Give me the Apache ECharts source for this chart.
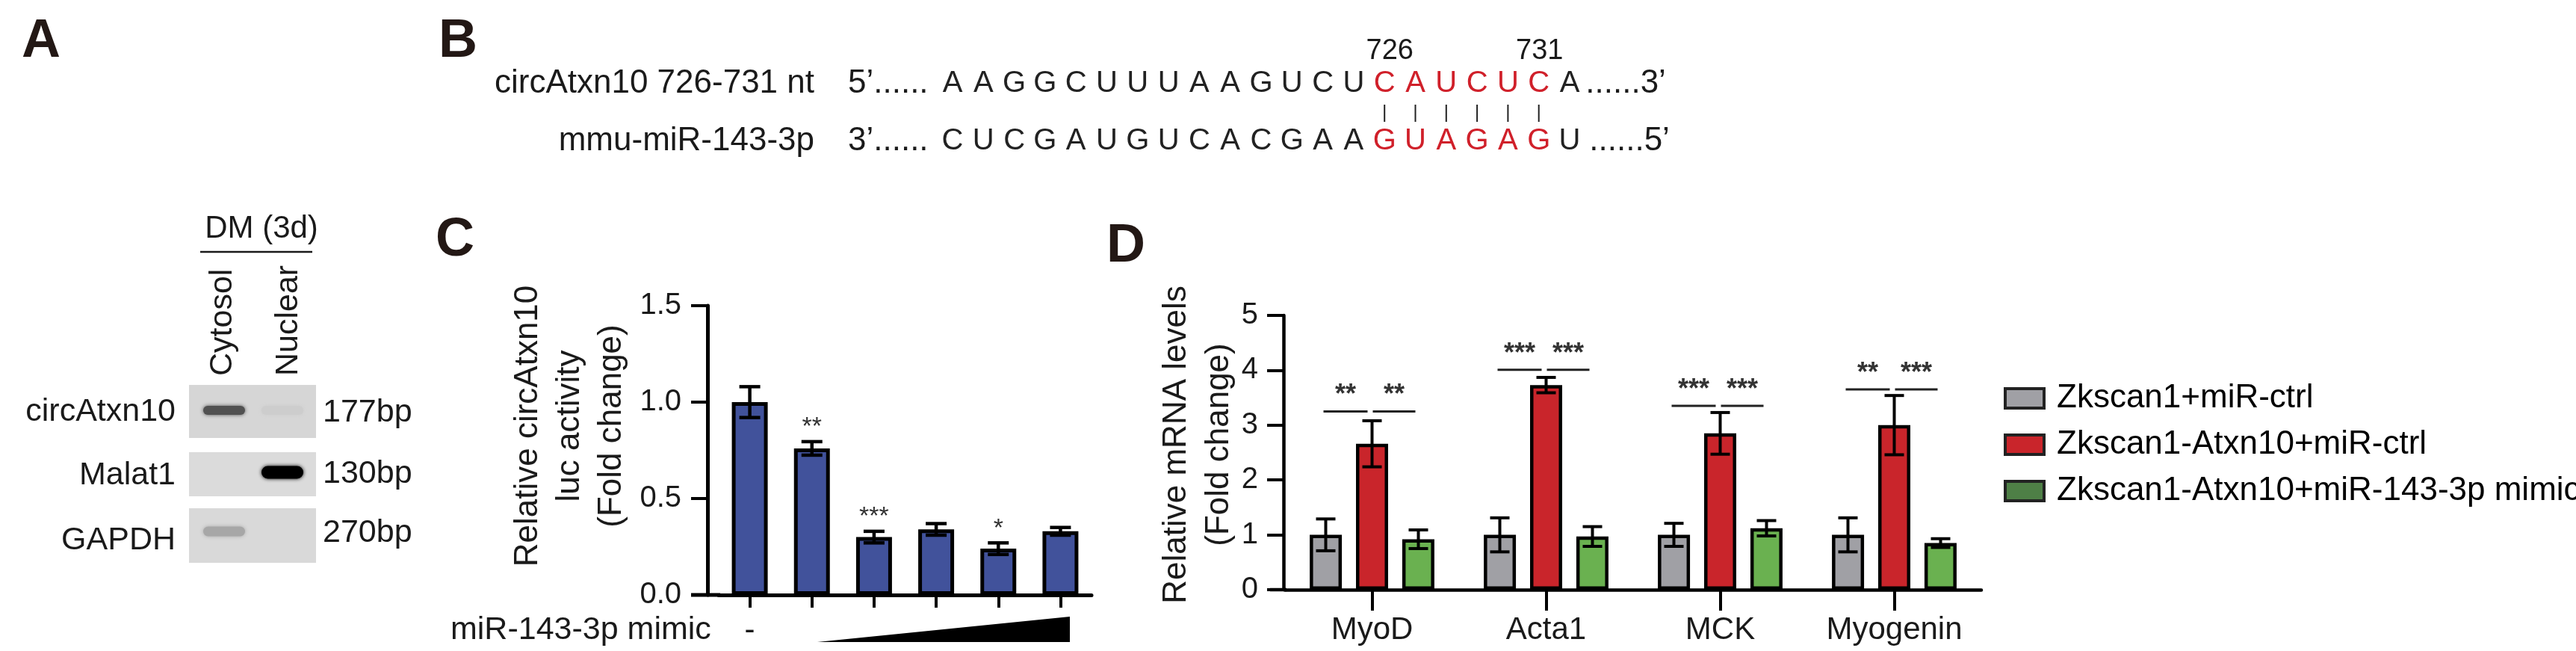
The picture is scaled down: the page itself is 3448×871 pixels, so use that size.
<!DOCTYPE html>
<html><head><meta charset="utf-8">
<script src="https://cdn.jsdelivr.net/npm/echarts@6/dist/echarts.min.js"></script>
<style>html,body{margin:0;padding:0;background:#fff}#c{width:3448px;height:871px}</style>
</head><body><div id="c"></div>
<script>
// ---------------- data ----------------
// Panel C
const cGroupKeys = ['ctrl', 'dose1', 'dose2', 'dose3', 'dose4', 'dose5'];
const cTickLabels = ['-', '', '', '', '', ''];
const cMeans = [1.00, 0.76, 0.30, 0.34, 0.24, 0.33];
const cErrors = [0.08, 0.035, 0.03, 0.03, 0.03, 0.02];
const cStars = ['', '**', '***', '', '*', ''];
const cYMin = 0, cYMax = 1.5, cYStep = 0.5;

// Panel D
const dGenes = ['MyoD', 'Acta1', 'MCK', 'Myogenin'];
const dSeriesNames = ['Zkscan1+miR-ctrl', 'Zkscan1-Atxn10+miR-ctrl', 'Zkscan1-Atxn10+miR-143-3p mimic'];
const dCtrl = [1.00, 1.00, 1.00, 1.00];
const dCtrlErr = [0.29, 0.31, 0.21, 0.31];
const dAtxn = [2.66, 3.73, 2.85, 3.00];
const dAtxnErr = [0.42, 0.14, 0.38, 0.54];
const dMimic = [0.92, 0.97, 1.12, 0.85];
const dMimicErr = [0.17, 0.18, 0.14, 0.08];
const dSigY = [3.25, 4.01, 3.35, 3.65];
const dSigLeft = ['**', '***', '***', '**'];
const dSigRight = ['**', '***', '***', '***'];
const dYMin = 0, dYMax = 5, dYStep = 1;

// Panel A
const blotGenes = ['circAtxn10', 'Malat1', 'GAPDH'];
const blotSizes = ['177bp', '130bp', '270bp'];
const blotLanes = ['Cytosol', 'Nuclear'];
const blotBands = [[0.62, 0.04], [0.0, 1.0], [0.22, 0.0]];
const blotCondition = 'DM (3d)';

// Panel B
const targetName = 'circAtxn10 726-731 nt';
const mirName = 'mmu-miR-143-3p';
const targetSeq = 'AAGGCUUUAAGUCUCAUCUCA'.split('');
const mirSeq = 'CUCGAUGUCACGAAGUAGAGU'.split('');
const seedFrom = 14, seedTo = 19;
const seedLabels = ['726', '731'];

// ---------------- styles / layout ----------------
const FONT = "'Liberation Sans', Arial, Helvetica, sans-serif";
const INK = '#1a1a1a';
const C_BLUE = '#41529b';
const D_COLORS = ['#a0a0a5', '#c9252b', '#6ab150'];
const LEGEND_COLORS = ['#a0a0a5', '#c9252b', '#4e7f46'];
const C_BAR = 48, D_BAR = 43, D_STEP = 62;

const chart = echarts.init(document.getElementById('c'), null, {renderer: 'canvas', width: 3448, height: 871});

function errSeries(xi, yi, means, errs, offset, capW, lw) {
  return {
    type: 'custom', xAxisIndex: xi, yAxisIndex: yi, z: 5, silent: true,
    encode: {x: 0, y: 1},
    data: means.map((m, i) => [i, m, errs[i]]),
    renderItem: (params, api) => {
      const i = params.dataIndex, m = means[i], e = errs[i];
      const t = api.coord([i, m + e]), b = api.coord([i, m - e]);
      const x = t[0] + offset;
      const st = {stroke: '#000', lineWidth: lw};
      return {type: 'group', children: [
        {type: 'line', shape: {x1: x, y1: t[1], x2: x, y2: b[1]}, style: st},
        {type: 'line', shape: {x1: x - capW / 2, y1: t[1], x2: x + capW / 2, y2: t[1]}, style: st},
        {type: 'line', shape: {x1: x - capW / 2, y1: b[1], x2: x + capW / 2, y2: b[1]}, style: st}
      ]};
    }
  };
}

function txt(x, y, text, o) {
  o = o || {};
  return {
    type: 'text', x: x, y: y, rotation: o.rotation || 0, silent: true,
    style: {
      text: text, fill: o.fill || INK, fontSize: o.size || 44, fontFamily: FONT,
      fontWeight: o.weight || 'normal',
      align: o.align || 'left', textAlign: o.align || 'left',
      verticalAlign: o.va || 'middle', textVerticalAlign: o.va || 'middle',
      lineHeight: o.lh || undefined
    }
  };
}

const graphics = [];
// panel letters
[['A', 29, 56], ['B', 587, 56], ['C', 583, 322], ['D', 1481, 330]].forEach(p => {
  graphics.push(txt(p[1], p[2], p[0], {size: 72, weight: 'bold', fill: '#231815'}));
});

// ---- Panel A (gel) ----
graphics.push(txt(350, 306, blotCondition, {size: 42, align: 'center'}));
graphics.push({type: 'line', shape: {x1: 268, y1: 337, x2: 418, y2: 337}, style: {stroke: INK, lineWidth: 2.5}});
const laneX = [298, 386];
blotLanes.forEach((l, i) => graphics.push(txt(laneX[i], 503, l, {size: 43, rotation: Math.PI / 2, align: 'left'})));
const boxTop = [515, 605, 680], boxH = [71, 59, 73], boxFill = ['#d6d6d6', '#dbdbdb', '#d9d9d9'];
const bandY = [549, 632, 711], bandH = [12, 17, 13], bandX = [300, 378];
blotGenes.forEach((g, r) => {
  graphics.push({type: 'rect', shape: {x: 253, y: boxTop[r], width: 170, height: boxH[r]}, style: {fill: boxFill[r]}});
  blotBands[r].forEach((v, l) => {
    if (v <= 0) return;
    const lv = Math.round(214 - v * 214);
    const col = 'rgb(' + lv + ',' + lv + ',' + lv + ')';
    graphics.push({type: 'rect', shape: {x: bandX[l] - 28, y: bandY[r] - bandH[r] / 2, width: 56, height: bandH[r], r: bandH[r] / 2},
      style: {fill: col, shadowBlur: 5, shadowColor: col}});
  });
  graphics.push(txt(235, [551, 636, 723][r], g, {size: 43, align: 'right'}));
  graphics.push(txt(432, [552, 634, 713][r], blotSizes[r], {size: 43}));
});

// ---- Panel B (sequence) ----
const SEQ_X0 = 1275, SEQ_STEP = 41.3, ROW1 = 112, ROW2 = 189;
graphics.push(txt(1090, ROW1, targetName, {size: 44, align: 'right'}));
graphics.push(txt(1090, ROW2, mirName, {size: 44, align: 'right'}));
graphics.push(txt(1135, ROW1, '5\u2019......', {size: 44}));
graphics.push(txt(1135, ROW2, '3\u2019......', {size: 44}));
targetSeq.forEach((ch, i) => {
  const red = i >= seedFrom && i <= seedTo;
  graphics.push(txt(SEQ_X0 + i * SEQ_STEP, ROW1, ch, {size: 40, align: 'center', fill: red ? '#d0202a' : '#222'}));
});
mirSeq.forEach((ch, i) => {
  const red = i >= seedFrom && i <= seedTo;
  graphics.push(txt(SEQ_X0 + i * SEQ_STEP, ROW2, ch, {size: 40, align: 'center', fill: red ? '#d0202a' : '#222'}));
});
for (let i = seedFrom; i <= seedTo; i++) {
  const x = SEQ_X0 + i * SEQ_STEP;
  graphics.push({type: 'line', shape: {x1: x, y1: 140, x2: x, y2: 163}, style: {stroke: '#222', lineWidth: 2}});
}
graphics.push(txt(SEQ_X0 + targetSeq.length * SEQ_STEP - 20, ROW1, '......3\u2019', {size: 44}));
graphics.push(txt(SEQ_X0 + mirSeq.length * SEQ_STEP - 15, ROW2, '......5\u2019', {size: 44}));
graphics.push(txt(SEQ_X0 + seedFrom * SEQ_STEP + 7, 69, seedLabels[0], {size: 38, align: 'center'}));
graphics.push(txt(SEQ_X0 + seedTo * SEQ_STEP + 1, 69, seedLabels[1], {size: 38, align: 'center'}));

// ---- Panel C furniture ----
graphics.push(txt(763, 570, 'Relative circAtxn10\nluc activity\n(Fold change)', {size: 44, align: 'center', rotation: Math.PI / 2, lh: 56}));
graphics.push({type: 'line', shape: {x1: 925, y1: 796, x2: 964, y2: 796}, style: {stroke: '#000', lineWidth: 5}});
graphics.push({type: 'polygon', shape: {points: [[1094, 859], [1432, 859], [1432, 825]]}, style: {fill: '#000'}});
graphics.push(txt(603, 843, 'miR-143-3p mimic', {size: 43}));

// ---- Panel D furniture ----
graphics.push(txt(1603, 595, 'Relative mRNA levels\n(Fold change)', {size: 44, align: 'center', rotation: Math.PI / 2, lh: 57}));
graphics.push({type: 'line', shape: {x1: 1700, y1: 789, x2: 1722, y2: 789}, style: {stroke: '#000', lineWidth: 4.5}});

const axisCommon = (w) => ({
  axisLine: {show: true, lineStyle: {color: '#000', width: w}},
  splitLine: {show: false}
});

const option = {
  animation: false,
  backgroundColor: '#fff',
  textStyle: {fontFamily: FONT},
  grid: [
    {left: 962, top: 409, width: 499, height: 387, outerBoundsMode: 'none', containLabel: false},
    {left: 1720, top: 422, width: 932, height: 367, outerBoundsMode: 'none', containLabel: false}
  ],
  xAxis: [
    Object.assign({type: 'category', gridIndex: 0, data: cGroupKeys,
      axisTick: {show: true, alignWithLabel: true, length: 17, lineStyle: {color: '#000', width: 4}},
      axisLabel: {formatter: (v, i) => cTickLabels[i], interval: 0, fontSize: 42, color: INK, margin: 27, fontFamily: FONT}},
      axisCommon(5)),
    Object.assign({type: 'category', gridIndex: 1, data: dGenes,
      axisTick: {show: true, alignWithLabel: true, length: 28, lineStyle: {color: '#000', width: 4}},
      axisLabel: {interval: 0, fontSize: 42, color: INK, margin: 33, fontFamily: FONT}},
      axisCommon(4.5))
  ],
  yAxis: [
    Object.assign({type: 'value', gridIndex: 0, min: cYMin, max: cYMax, interval: cYStep, offset: 15,
      axisTick: {show: true, length: 22, lineStyle: {color: '#000', width: 4}},
      axisLabel: {formatter: v => v.toFixed(1), fontSize: 40, color: INK, margin: 35, fontFamily: FONT}},
      axisCommon(5)),
    Object.assign({type: 'value', gridIndex: 1, min: dYMin, max: dYMax, interval: dYStep, offset: 2,
      axisTick: {show: true, length: 22, lineStyle: {color: '#000', width: 4}},
      axisLabel: {fontSize: 40, color: INK, margin: 34, fontFamily: FONT}},
      axisCommon(4.5))
  ],
  legend: {
    orient: 'vertical', left: 2682, top: 511, padding: 0, itemWidth: 52, itemHeight: 26, itemGap: 18,
    icon: 'rect', selectedMode: false,
    textStyle: {fontSize: 44, color: '#000', lineHeight: 44, fontFamily: FONT, padding: [0, 0, 0, 12]},
    data: dSeriesNames.map((n, i) => ({name: n, itemStyle: {color: LEGEND_COLORS[i], borderColor: '#222', borderWidth: 4}}))
  },
  series: [
    {type: 'bar', xAxisIndex: 0, yAxisIndex: 0, data: cMeans, barWidth: C_BAR, z: 2,
      itemStyle: {color: C_BLUE, borderColor: '#000', borderWidth: 5}},
    errSeries(0, 0, cMeans, cErrors, 0, 28, 4.5),
    {type: 'custom', xAxisIndex: 0, yAxisIndex: 0, z: 6, silent: true, encode: {x: 0, y: 1},
      data: cMeans.map((m, i) => [i, m + cErrors[i]]),
      renderItem: (params, api) => {
        const i = params.dataIndex;
        const p = api.coord([i, cMeans[i] + cErrors[i]]);
        return {type: 'text', x: p[0], y: p[1] - 2, style: {text: cStars[i], fill: '#333', fontSize: 34, fontFamily: FONT,
          align: 'center', textAlign: 'center', verticalAlign: 'bottom', textVerticalAlign: 'bottom'}};
      }},
    ...[dCtrl, dAtxn, dMimic].map((arr, s) => ({
      type: 'bar', name: dSeriesNames[s], xAxisIndex: 1, yAxisIndex: 1, data: arr, barWidth: D_BAR,
      barGap: ((D_STEP - D_BAR) / D_BAR * 100).toFixed(0) + '%', z: 2,
      itemStyle: {color: D_COLORS[s], borderColor: '#000', borderWidth: 4.5}
    })),
    errSeries(1, 1, dCtrl, dCtrlErr, -D_STEP, 26, 4),
    errSeries(1, 1, dAtxn, dAtxnErr, 0, 26, 4),
    errSeries(1, 1, dMimic, dMimicErr, D_STEP, 26, 4),
    {type: 'custom', xAxisIndex: 1, yAxisIndex: 1, z: 6, silent: true, encode: {x: 0, y: 1},
      data: dSigY.map((y, i) => [i, y]),
      renderItem: (params, api) => {
        const i = params.dataIndex;
        const p = api.coord([i, dSigY[i]]);
        const g = p[0] - D_STEP, r = p[0], gr = p[0] + D_STEP;
        const st = {stroke: '#222', lineWidth: 3};
        const l1 = [g - 3, r - 6], l2 = [r + 1, gr - 4];
        const star = (x, t) => ({type: 'text', x: x, y: p[1] - 3, style: {text: t, fill: '#333', fontSize: 36, fontWeight: 'bold', fontFamily: FONT,
          align: 'center', textAlign: 'center', verticalAlign: 'bottom', textVerticalAlign: 'bottom'}});
        return {type: 'group', children: [
          {type: 'line', shape: {x1: l1[0], y1: p[1], x2: l1[1], y2: p[1]}, style: st},
          {type: 'line', shape: {x1: l2[0], y1: p[1], x2: l2[1], y2: p[1]}, style: st},
          star((l1[0] + l1[1]) / 2, dSigLeft[i]),
          star((l2[0] + l2[1]) / 2, dSigRight[i])
        ]};
      }}
  ],
  graphic: {elements: graphics}
};
chart.setOption(option);
</script></body></html>
